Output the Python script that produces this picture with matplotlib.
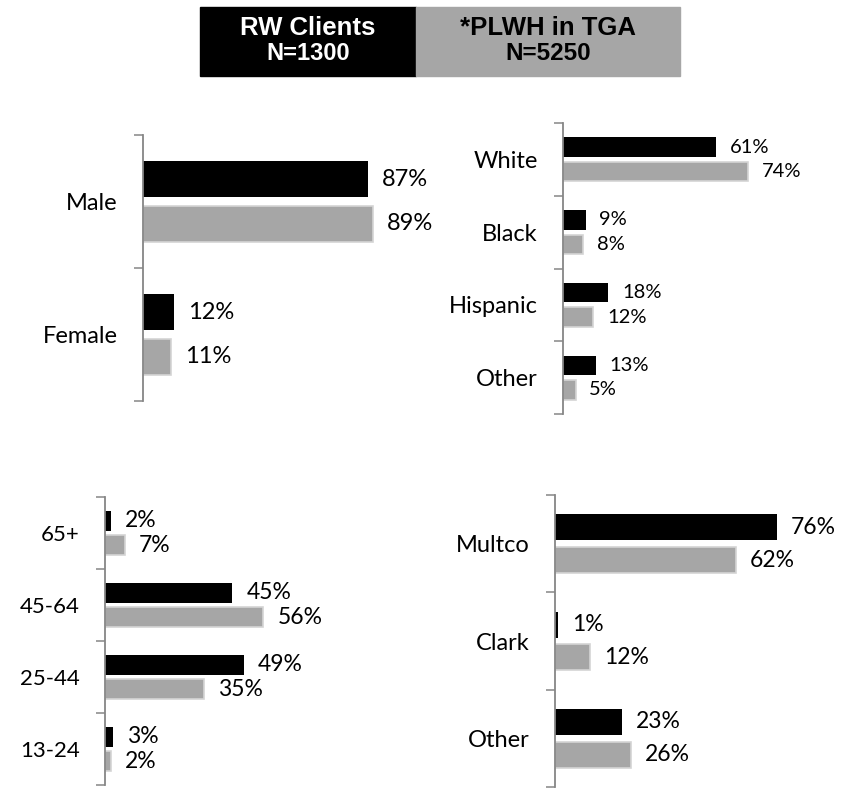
import matplotlib
matplotlib.use("Agg")
import matplotlib.pyplot as plt
import numpy as np
from matplotlib.patches import Rectangle

plt.rcParams['font.family'] = ['Lato', 'DejaVu Sans']

# data
sex_cats = ['Male', 'Female']
sex_rw = [87, 12]
sex_plwh = [89, 11]

race_cats = ['White', 'Black', 'Hispanic', 'Other']
race_rw = [61, 9, 18, 13]
race_plwh = [74, 8, 12, 5]

age_cats = ['65+', '45-64', '25-44', '13-24']
age_rw = [2, 45, 49, 3]
age_plwh = [7, 56, 35, 2]

county_cats = ['Multco', 'Clark', 'Other']
county_rw = [76, 1, 23]
county_plwh = [62, 12, 26]

W, H = 859, 790
fig = plt.figure(figsize=(W / 100, H / 100), dpi=100)

BLACK = '#000000'
GREY = '#a6a6a6'
AXC = '#868686'

# header boxes
fig.patches.append(Rectangle((200 / W, 1 - 76 / H), 216 / W, 69 / H,
                             transform=fig.transFigure, color=BLACK))
fig.patches.append(Rectangle((416 / W, 1 - 76 / H), 264 / W, 69 / H,
                             transform=fig.transFigure, color=GREY))
hfont = ['Liberation Sans', 'DejaVu Sans']
fig.text(308 / W, 1 - 28 / H, 'RW Clients', ha='center', va='center', color='white',
         fontsize=18.5, fontweight='bold', family=hfont)
fig.text(308 / W, 1 - 54 / H, 'N=1300', ha='center', va='center', color='white',
         fontsize=17, fontweight='bold', family=hfont)
fig.text(548 / W, 1 - 28 / H, '*PLWH in TGA', ha='center', va='center', color='black',
         fontsize=18.5, fontweight='bold', family=hfont)
fig.text(548 / W, 1 - 54 / H, 'N=5250', ha='center', va='center', color='black',
         fontsize=17.5, fontweight='bold', family=hfont)


def panel(left, top, bottom, px_per_pct, cats, rw, plwh, cat_fs, val_fs):
    ax = fig.add_axes([left / W, 1 - bottom / H, 100 * px_per_pct / W, (bottom - top) / H])
    n = len(cats)
    y = np.arange(n)
    h = 0.27
    off = 0.168
    ax.barh(y - off, rw, height=h, color=BLACK)
    ax.barh(y + off, plwh, height=h, color=GREY, edgecolor='#d4d4d4', linewidth=1.2)
    for yi, v in zip(y - off, rw):
        ax.annotate(f'{v}%', (v, yi), xytext=(10, 0), textcoords='offset points',
                    ha='left', va='center', fontsize=val_fs, annotation_clip=False)
    for yi, v in zip(y + off, plwh):
        ax.annotate(f'{v}%', (v, yi), xytext=(10, 0), textcoords='offset points',
                    ha='left', va='center', fontsize=val_fs, annotation_clip=False)
    ax.set_xlim(0, 100)
    ax.set_ylim(n - 0.5, -0.5)
    ax.set_yticks(np.arange(n + 1) - 0.5)
    ax.set_yticklabels([])
    ax.set_yticks(y, minor=True)
    ax.set_yticklabels(cats, minor=True, fontsize=cat_fs)
    ax.tick_params(axis='y', which='major', length=6.5, width=1.1, color=AXC, direction='out')
    ax.tick_params(axis='y', which='minor', length=0, pad=18)
    ax.set_xticks([])
    for s in ['top', 'right', 'bottom']:
        ax.spines[s].set_visible(False)
    ax.spines['left'].set_color(AXC)
    ax.spines['left'].set_linewidth(1.3)
    ax.patch.set_alpha(0)
    return ax


panel(143, 135, 401, 2.585, sex_cats, sex_rw, sex_plwh, 17, 17)
panel(563, 123, 414, 2.50, race_cats, race_rw, race_plwh, 17, 14.5)
panel(105, 497, 785, 2.83, age_cats, age_rw, age_plwh, 16, 16.5)
panel(555, 495, 787, 2.925, county_cats, county_rw, county_plwh, 17, 16.5)

fig.savefig('out.png', dpi=100)
